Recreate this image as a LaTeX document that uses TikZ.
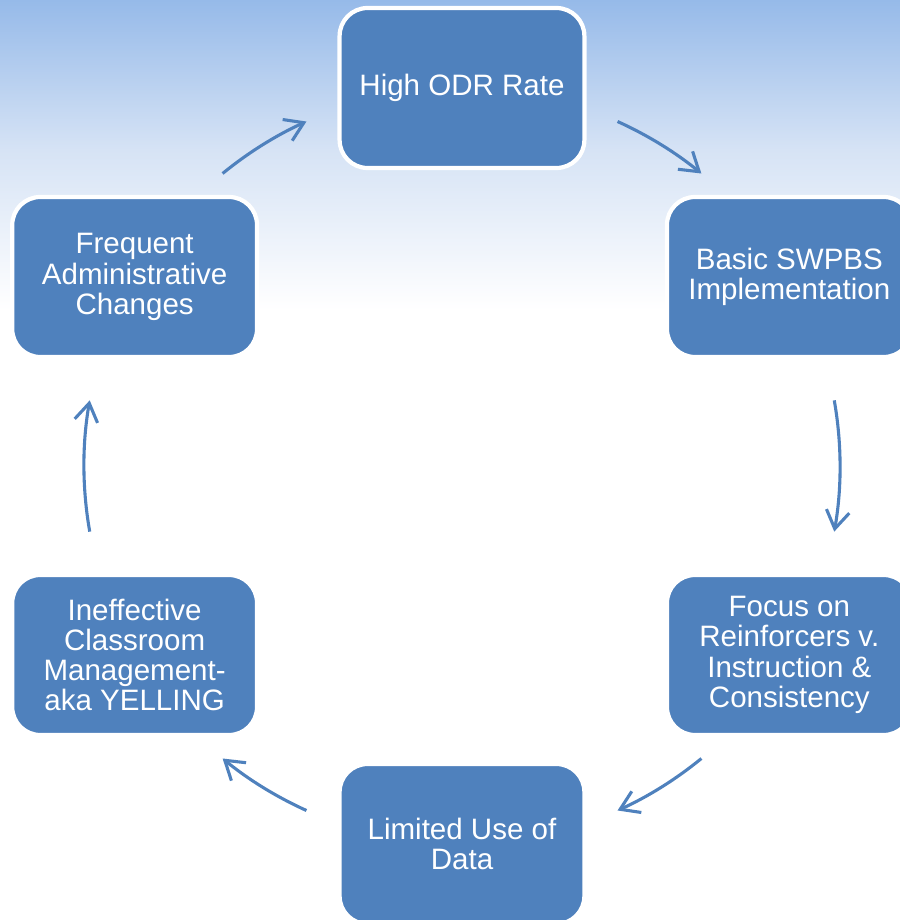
\documentclass[tikz,border=0pt]{standalone}
\usepackage{fontspec}
\setmainfont{Liberation Sans}
\usetikzlibrary{arrows.meta}
\definecolor{boxblue}{RGB}{79,129,189}
\definecolor{skytop}{RGB}{150,186,233}
\definecolor{skymid}{RGB}{214,227,245}
\begin{document}
\begin{tikzpicture}[
		step box/.style={rectangle,rounded corners=0.7cm,draw=white,line width=3pt,fill=boxblue,
			text=white,align=center,minimum width=6.12cm,minimum height=4cm,
			font=\fontsize{21}{21.5}\selectfont},
		cyc/.style={boxblue,line width=2.2pt,-{Straight Barb[length=0.45cm,width=0.58cm,line width=2.2pt]}}]
		\useasboundingbox (-11.55,-11.35) rectangle (10.95,11.65);
		% sky behind the top half
		\shade[top color=skytop,bottom color=skymid] (-11.55,11.65) rectangle (10.95,7.9);
		\shade[top color=skymid,bottom color=white] (-11.55,7.9) rectangle (10.95,3.9);
		\coordinate (o) at (0,0);
		\path (90:9.45) node(odr)[step box]{High ODR Rate}
		(30:9.45) node(swpbs)[step box]{Basic SWPBS\\Implementation}
		(-30:9.45) node(focus)[step box]{Focus on\\Reinforcers v.\\Instruction \&\\Consistency}
		(-90:9.45) node(data)[step box]{Limited Use of\\Data}
		(-150:9.45) node(yelling)[step box]{Ineffective\\Classroom\\Management-\\aka YELLING}
		(150:9.45) node(admin)[step box]{Frequent\\Administrative\\Changes};
		% arrows round the cycle
		\draw[cyc] (o) ++(65.7:9.45) arc[start angle=65.7,end angle=50.7,radius=9.45];
		\draw[cyc] (o) ++(10:9.45) arc[start angle=10,end angle=-10,radius=9.45];
		\draw[cyc] (o) ++(-50.7:9.45) arc[start angle=-50.7,end angle=-65.7,radius=9.45];
		\draw[cyc] (o) ++(-114.3:9.45) arc[start angle=-114.3,end angle=-129.3,radius=9.45];
		\draw[cyc] (o) ++(190:9.45) arc[start angle=190,end angle=170,radius=9.45];
		\draw[cyc] (o) ++(129.3:9.45) arc[start angle=129.3,end angle=114.3,radius=9.45];
	\end{tikzpicture}
\end{document}
